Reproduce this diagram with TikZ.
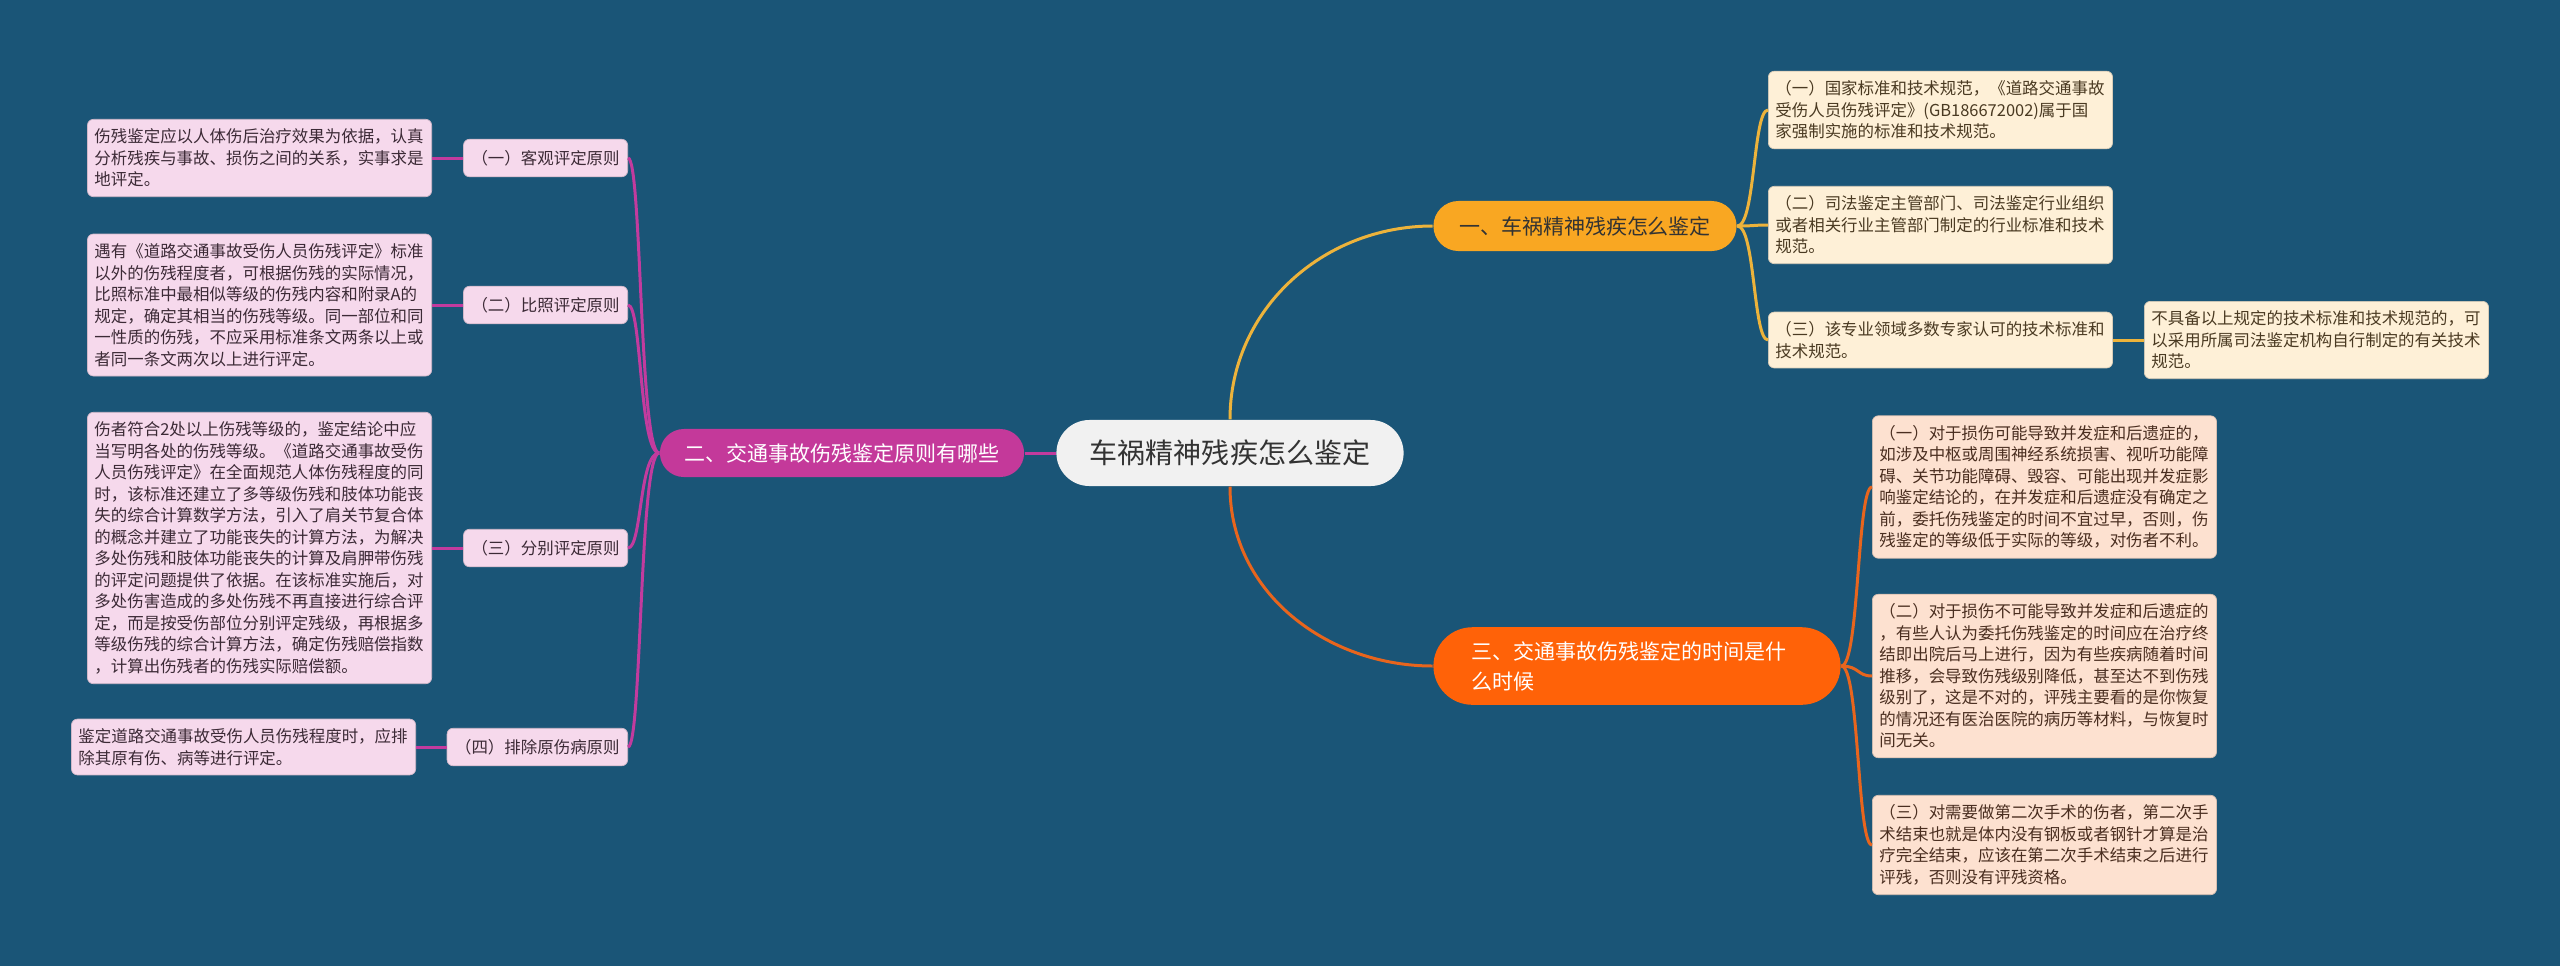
\documentclass[tikz,border=0pt]{standalone}
\usepackage{fontspec}
\setmainfont{Noto Sans CJK SC}
\usepackage{tikz}
\definecolor{bgblue}{HTML}{1A5577}
\definecolor{rootgray}{HTML}{F1F1F1}
\definecolor{darktext}{HTML}{333333}
\definecolor{yelfill}{HTML}{F9A722}
\definecolor{yelline}{HTML}{EDB33B}
\definecolor{yelleaf}{HTML}{FEF0D7}
\definecolor{yeltext}{HTML}{4A3A22}
\definecolor{magfill}{HTML}{C4399A}
\definecolor{magline}{HTML}{C23B9E}
\definecolor{magleaf}{HTML}{F6D9EC}
\definecolor{magtext}{HTML}{3C2A36}
\definecolor{orafill}{HTML}{FF6208}
\definecolor{oraline}{HTML}{E8651D}
\definecolor{oraleaf}{HTML}{FDE1D0}
\definecolor{oratext}{HTML}{4A2E20}
\tikzset{
	rootstyle/.style={rectangle,rounded corners=0.33cm,fill=rootgray,text=darktext,minimum width=3.47cm,minimum height=0.66cm,inner sep=0pt,font=\fontsize{7.97pt}{9pt}\selectfont},
	branchstyle/.style={rectangle,inner sep=0pt,font=\fontsize{5.97pt}{8.54pt}\selectfont},
	leafstyle/.style={rectangle,rounded corners=0.06cm,text width=3.3cm,align=left,inner xsep=0.07cm,inner ysep=0.095cm,font=\fontsize{4.68pt}{6.12pt}\selectfont},
	midstyle/.style={rectangle,rounded corners=0.06cm,fill=magleaf,draw=magleaf!85!black,line width=0.2pt,text=magtext,minimum width=1.64cm,minimum height=0.375cm,inner xsep=0.08cm,inner ysep=0pt,font=\fontsize{4.68pt}{6.12pt}\selectfont},
	yelleafstyle/.style={leafstyle,fill=yelleaf,draw=yelleaf!85!black,line width=0.2pt,text=yeltext},
	magleafstyle/.style={leafstyle,fill=magleaf,draw=magleaf!85!black,line width=0.2pt,text=magtext},
	oraleafstyle/.style={leafstyle,fill=oraleaf,draw=oraleaf!85!black,line width=0.2pt,text=oratext},
	yelconn/.style={draw=yelline,line width=0.85pt},
	magconn/.style={draw=magline,line width=0.85pt},
	oraconn/.style={draw=oraline,line width=0.85pt}
}
\begin{document}
\begin{tikzpicture}[x=0.01cm,y=-0.01cm]
	\fill[bgblue] (0,0) rectangle (2560,966);
	\node[rootstyle] (root) at (1230,453) {车祸精神残疾怎么鉴定};
	\node[branchstyle,rounded corners=0.24cm,fill=magfill,text=white,minimum width=3.64cm,minimum height=0.48cm] (mag) at (842,453) {二、交通事故伤残鉴定原则有哪些};
	\node[branchstyle,rounded corners=0.25cm,fill=yelfill,text=darktext,minimum width=3.03cm,minimum height=0.5cm] (yel) at (1585,226) {一、车祸精神残疾怎么鉴定};
	\node[branchstyle,rounded corners=0.39cm,fill=orafill,text=white,text width=3.3cm,align=left,inner xsep=0.385cm,inner ysep=0.14cm] (ora) at (1637,666) {三、交通事故伤残鉴定的时间是什\\么时候};
	\node[midstyle,anchor=east] (m1) at (628,158) {（一）客观评定原则};
	\node[midstyle,anchor=east] (m2) at (628,305) {（二）比照评定原则};
	\node[midstyle,anchor=east] (m3) at (628,548) {（三）分别评定原则};
	\node[midstyle,anchor=east] (m4) at (628,747) {（四）排除原伤病原则};
	\node[magleafstyle,anchor=east] (ml1) at (432,158) {伤残鉴定应以人体伤后治疗效果为依据，认真\\分析残疾与事故、损伤之间的关系，实事求是\\地评定。};
	\node[magleafstyle,anchor=east] (ml2) at (432,305) {遇有《道路交通事故受伤人员伤残评定》标准\\以外的伤残程度者，可根据伤残的实际情况，\\比照标准中最相似等级的伤残内容和附录A的\\规定，确定其相当的伤残等级。同一部位和同\\一性质的伤残，不应采用标准条文两条以上或\\者同一条文两次以上进行评定。};
	\node[magleafstyle,anchor=east] (ml3) at (432,548) {伤者符合2处以上伤残等级的，鉴定结论中应\\当写明各处的伤残等级。《道路交通事故受伤\\人员伤残评定》在全面规范人体伤残程度的同\\时，该标准还建立了多等级伤残和肢体功能丧\\失的综合计算数学方法，引入了肩关节复合体\\的概念并建立了功能丧失的计算方法，为解决\\多处伤残和肢体功能丧失的计算及肩胛带伤残\\的评定问题提供了依据。在该标准实施后，对\\多处伤害造成的多处伤残不再直接进行综合评\\定，而是按受伤部位分别评定残级，再根据多\\等级伤残的综合计算方法，确定伤残赔偿指数\\，计算出伤残者的伤残实际赔偿额。};
	\node[magleafstyle,anchor=east] (ml4) at (416,747) {鉴定道路交通事故受伤人员伤残程度时，应排\\除其原有伤、病等进行评定。};
	\node[yelleafstyle,anchor=west] (y1) at (1768,110) {（一）国家标准和技术规范，《道路交通事故\\受伤人员伤残评定》(GB186672002)属于国\\家强制实施的标准和技术规范。};
	\node[yelleafstyle,anchor=west] (y2) at (1768,225) {（二）司法鉴定主管部门、司法鉴定行业组织\\或者相关行业主管部门制定的行业标准和技术\\规范。};
	\node[yelleafstyle,anchor=west] (y3) at (1768,340) {（三）该专业领域多数专家认可的技术标准和\\技术规范。};
	\node[yelleafstyle,anchor=west] (y3a) at (2144,340) {不具备以上规定的技术标准和技术规范的，可\\以采用所属司法鉴定机构自行制定的有关技术\\规范。};
	\node[oraleafstyle,anchor=west] (o1) at (1872,487) {（一）对于损伤可能导致并发症和后遗症的，\\如涉及中枢或周围神经系统损害、视听功能障\\碍、关节功能障碍、毁容、可能出现并发症影\\响鉴定结论的，在并发症和后遗症没有确定之\\前，委托伤残鉴定的时间不宜过早，否则，伤\\残鉴定的等级低于实际的等级，对伤者不利。};
	\node[oraleafstyle,anchor=west] (o2) at (1872,676) {（二）对于损伤不可能导致并发症和后遗症的\\，有些人认为委托伤残鉴定的时间应在治疗终\\结即出院后马上进行，因为有些疾病随着时间\\推移，会导致伤残级别降低，甚至达不到伤残\\级别了，这是不对的，评残主要看的是你恢复\\的情况还有医治医院的病历等材料，与恢复时\\间无关。};
	\node[oraleafstyle,anchor=west] (o3) at (1872,845) {（三）对需要做第二次手术的伤者，第二次手\\术结束也就是体内没有钢板或者钢针才算是治\\疗完全结束，应该在第二次手术结束之后进行\\评残，否则没有评残资格。};
	\draw[magconn] (root.west)--(mag.east);
	\draw[yelconn] (root.north) to[out=90,in=180] (yel.west);
	\draw[oraconn] (root.south) to[out=-90,in=180] (ora.west);
	\foreach \m in {m1,m2,m3,m4}
		\draw[magconn] (mag.west) .. controls ([xshift=-0.2cm]mag.west) and ([xshift=0.14cm]\m.east |- \m.east) .. (\m.east);
	\draw[magconn] (m1.west)--(ml1.east);
	\draw[magconn] (m2.west)--(ml2.east);
	\draw[magconn] (m3.west)--(ml3.east);
	\draw[magconn] (m4.west)--(ml4.east);
	\foreach \y in {y1,y2,y3}
		\draw[yelconn] (yel.east) .. controls ([xshift=0.18cm]yel.east) and ([xshift=-0.15cm]\y.west) .. (\y.west);
	\draw[yelconn] (y3.east)--(y3a.west);
	\foreach \o in {o1,o2,o3}
		\draw[oraconn] (ora.east) .. controls ([xshift=0.18cm]ora.east) and ([xshift=-0.15cm]\o.west) .. (\o.west);
\end{tikzpicture}
\end{document}
